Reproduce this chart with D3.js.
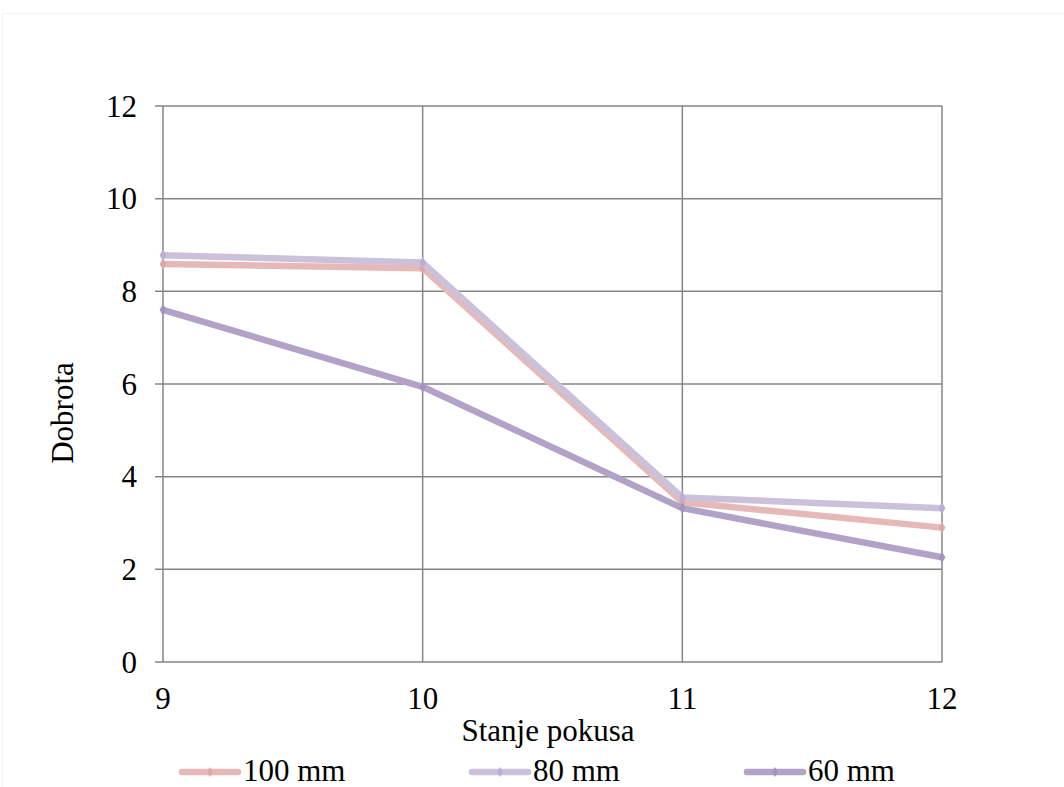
<!DOCTYPE html>
<html><head><meta charset="utf-8">
<script src="https://cdn.jsdelivr.net/npm/d3@7"></script>
<style>body{margin:0;background:#fff}svg{display:block}svg text{font-family:"Liberation Serif","Times New Roman",serif;font-size:31px;fill:#000}</style>
</head><body>
<svg id="c" width="1064" height="787"></svg>
<script>
const categories = [9, 10, 11, 12];
const s100 = [8.59, 8.50, 3.45, 2.90];
const s80 = [8.78, 8.62, 3.55, 3.32];
const s60 = [7.60, 5.94, 3.32, 2.26];
const yTicks = [0, 2, 4, 6, 8, 10, 12];
const seriesNames = ["100 mm", "80 mm", "60 mm"];
const colors = ["#E6B9B8", "#CCC1DA", "#B3A2C7"];
const markerColors = ["#DDA9A8", "#BBAED0", "#A593BF"];

const svg = d3.select("#c");
svg.append("rect").attr("x",2.5).attr("y",13.5).attr("width",1070).attr("height",790)
  .attr("fill","none").attr("stroke","#f2f2f2").attr("stroke-width",1);

const L=163,R=942,T=106,B=662;
const x = d3.scalePoint().domain(categories).range([L,R]);
const y = d3.scaleLinear().domain([0,12]).range([B,T]);

const g = svg.append("g");
g.selectAll(".hg").data(yTicks).join("line")
  .attr("x1",L-8).attr("x2",R).attr("y1",d=>y(d)).attr("y2",d=>y(d))
  .attr("stroke","#868686").attr("stroke-width",1.5);
g.selectAll(".vg").data(categories).join("line")
  .attr("x1",d=>x(d)).attr("x2",d=>x(d)).attr("y1",T).attr("y2",B)
  .attr("stroke","#868686").attr("stroke-width",1.5);

g.selectAll(".yl").data(yTicks).join("text")
  .attr("x",137).attr("y",d=>y(d)).attr("dy","0.34em").attr("text-anchor","end")
  .text(d=>d);
g.selectAll(".xl").data(categories).join("text")
  .attr("x",d=>x(d)).attr("y",709).attr("text-anchor","middle")
  .text(d=>d);

svg.append("text").attr("x",548).attr("y",741).attr("text-anchor","middle").text("Stanje pokusa");
svg.append("text").attr("transform","translate(73,413) rotate(-90)").attr("text-anchor","middle").text("Dobrota");

const series = [s100, s80, s60];
const line = d3.line().x((d,i)=>x(categories[i])).y(d=>y(d));
const diamond = d3.symbol().type(d3.symbolDiamond).size(40);
series.forEach((s,k)=>{
  svg.append("path").attr("d",line(s)).attr("fill","none").attr("stroke",colors[k])
    .attr("stroke-width",6.5).attr("stroke-linejoin","round");
  svg.selectAll(".m"+k).data(s).join("path")
    .attr("transform",(d,i)=>`translate(${x(categories[i])},${y(d)})`)
    .attr("d",diamond).attr("fill",markerColors[k]);
});

const legX = [182, 472, 747];
seriesNames.forEach((n,k)=>{
  const lg = svg.append("g");
  lg.append("line").attr("x1",legX[k]).attr("x2",legX[k]+56).attr("y1",772).attr("y2",772)
    .attr("stroke",colors[k]).attr("stroke-width",6.5).attr("stroke-linecap","round");
  lg.append("path").attr("transform",`translate(${legX[k]+28},772)`).attr("d",d3.symbol().type(d3.symbolDiamond).size(30)).attr("fill",markerColors[k]);
  lg.append("text").attr("x",legX[k]+61).attr("y",781).text(n);
});
</script>
</body></html>
